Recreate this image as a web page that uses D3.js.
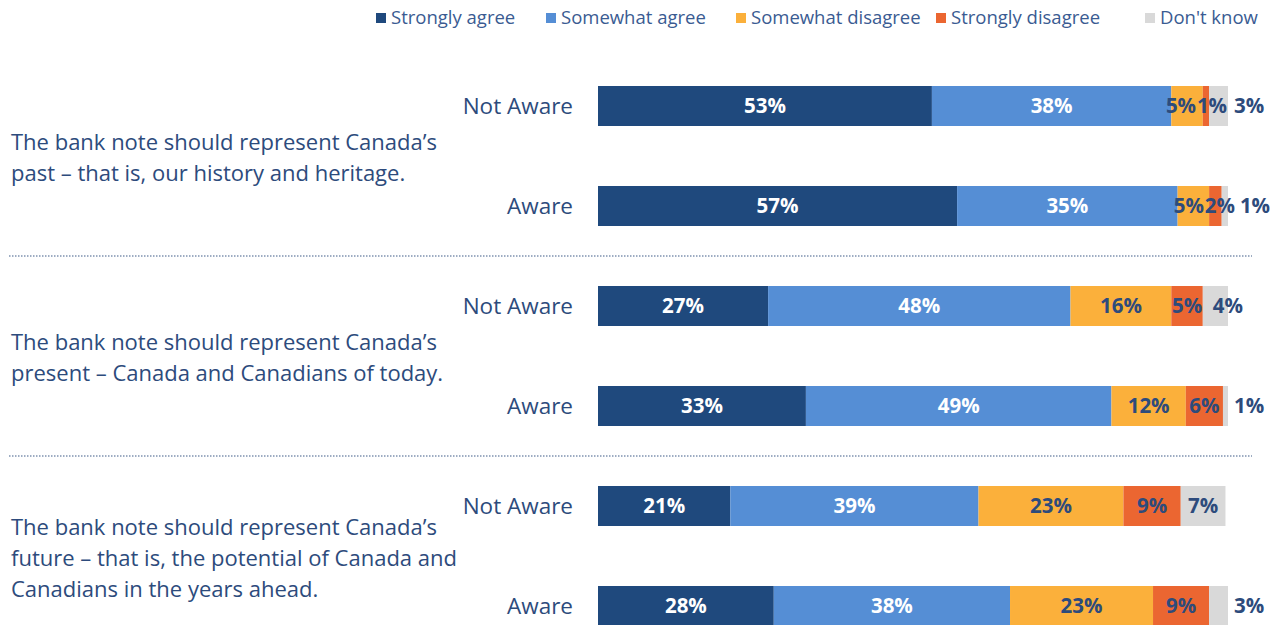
<!DOCTYPE html>
<html lang="en">
    <head>
        <title>Bank note survey</title>
        <script src="https://d3js.org/d3.v7.min.js"></script>
        <style>
            body { margin: 0; background: #fff; }
            text { font-family: "Open Sans", sans-serif; }
        </style>
    </head>
    <body>
    <div id="mainDiv"></div>

        <script type="text/javascript">
            const width = 1280
            const height = 625

            // data (labels show the rounded value)
            const categories = ['Strongly agree', 'Somewhat agree', 'Somewhat disagree', 'Strongly disagree', "Don't know"]
            const groups = ['Not Aware', 'Aware']
            const questions = [
                ['The bank note should represent Canada\u2019s', 'past \u2013 that is, our history and heritage.'],
                ['The bank note should represent Canada\u2019s', 'present \u2013 Canada and Canadians of today.'],
                ['The bank note should represent Canada\u2019s', 'future \u2013 that is, the potential of Canada and', 'Canadians in the years ahead.']
            ]
            const pastValues = [[53, 38, 5, 1, 3], [57, 35, 5, 2, 1]]
            const presentValues = [[27, 48, 16, 5, 4], [33, 48.5, 11.8, 5.9, 0.8]]
            const futureValues = [[21, 39.4, 23, 9.1, 7.1], [27.9, 37.5, 22.7, 8.9, 3]]

            const colors = ['#1f497d', '#558ed5', '#fbb03b', '#eb6631', '#d9d9d9']
            const navy = '#2d4b7c'

            const rows = []
            ;[pastValues, presentValues, futureValues].forEach((vals, q) => {
                vals.forEach((v, g) => rows.push({ id: q + '-' + g, q: q, group: groups[g], values: v }))
            })

            const svg = d3.select('#mainDiv').append('svg')
                .attr('width', width)
                .attr('height', height)

            const xScale = d3.scaleLinear().domain([0, 100]).range([598, 1228])
            const yScale = d3.scaleBand()
                .domain(rows.map(d => d.id))
                .range([56, 656])
                .paddingInner(0.6)
                .paddingOuter(0.3)

            const color = d3.scaleOrdinal().domain(categories).range(colors)

            // legend
            const legendX = [376, 546, 736, 936, 1145]
            const legend = svg.append('g')
            categories.forEach((c, i) => {
                legend.append('rect')
                    .attr('x', legendX[i]).attr('y', 13)
                    .attr('width', 10).attr('height', 10)
                    .attr('fill', color(c))
                legend.append('text')
                    .attr('x', legendX[i] + 15).attr('y', 24)
                    .attr('font-size', 18.5)
                    .attr('fill', '#3a5b92')
                    .text(c)
            })

            // stacked segments
            const segs = []
            rows.forEach(r => {
                let acc = 0
                const rowSegs = r.values.map((v, i) => {
                    const s = { row: r, cat: categories[i], i: i, v: v, x0: acc, x1: acc + v }
                    acc += v
                    return s
                })
                // label position
                rowSegs.forEach(s => {
                    const w = xScale(s.x1) - xScale(s.x0)
                    s.anchor = 'middle'
                    s.lx = (xScale(s.x0) + xScale(s.x1)) / 2
                    if (s.i === 4 && w < 22) { s.lx = xScale(s.x1) + 6; s.anchor = 'start' }
                    else if (s.i === 4 && w < 40) { s.lx = xScale(s.x0) + 10; s.anchor = 'start' }
                })
                // push the two disagree labels apart when they collide
                const a = rowSegs[2], b = rowSegs[3], c = rowSegs[4], gap = 31
                if (b.lx - a.lx < gap) {
                    const m = (a.lx + b.lx) / 2
                    a.lx = m - gap / 2
                    b.lx = m + gap / 2
                }
                if (c.anchor === 'start') c.lx = Math.max(c.lx, b.lx + 20)
                segs.push(...rowSegs)
            })

            const bars = svg.append('g')
            bars.selectAll('rect')
                .data(segs)
                .join('rect')
                .attr('x', d => xScale(d.x0))
                .attr('y', d => yScale(d.row.id))
                .attr('width', d => xScale(d.x1) - xScale(d.x0))
                .attr('height', yScale.bandwidth())
                .attr('fill', d => color(d.cat))

            bars.selectAll('text')
                .data(segs)
                .join('text')
                .attr('x', d => d.lx)
                .attr('text-anchor', d => d.anchor)
                .attr('y', d => yScale(d.row.id) + yScale.bandwidth() / 2)
                .attr('dy', '0.36em')
                .attr('font-size', 20.5)
                .attr('font-weight', 'bold')
                .attr('fill', d => d.i < 2 ? '#fff' : navy)
                .text(d => Math.round(d.v) + '%')

            // row labels
            svg.append('g').selectAll('text')
                .data(rows)
                .join('text')
                .attr('x', 573)
                .attr('y', d => yScale(d.id) + yScale.bandwidth() / 2)
                .attr('dy', '0.36em')
                .attr('text-anchor', 'end')
                .attr('font-size', 22.5)
                .attr('fill', navy)
                .text(d => d.group)

            // question text
            const lineH = 31
            questions.forEach((lines, q) => {
                const mid = (yScale(q + '-0') + yScale(q + '-1')) / 2 + yScale.bandwidth() / 2 + 2
                const t = svg.append('text')
                    .attr('x', 11)
                    .attr('font-size', 22)
                    .attr('fill', navy)
                lines.forEach((l, k) => {
                    t.append('tspan')
                        .attr('x', 11)
                        .attr('y', mid + (k - (lines.length - 1) / 2) * lineH)
                        .attr('dy', '0.36em')
                        .text(l)
                })
            })

            // dotted separators between questions
            ;[0, 1].forEach(q => {
                const y = (yScale(q + '-1') + yScale((q + 1) + '-0')) / 2 + yScale.bandwidth() / 2
                svg.append('line')
                    .attr('x1', 9).attr('x2', 1252)
                    .attr('y1', y).attr('y2', y)
                    .attr('stroke', '#7f92b0')
                    .attr('stroke-width', 1.5)
                    .attr('stroke-dasharray', '1.5,1.5')
            })
        </script>
    </body>
</html>
